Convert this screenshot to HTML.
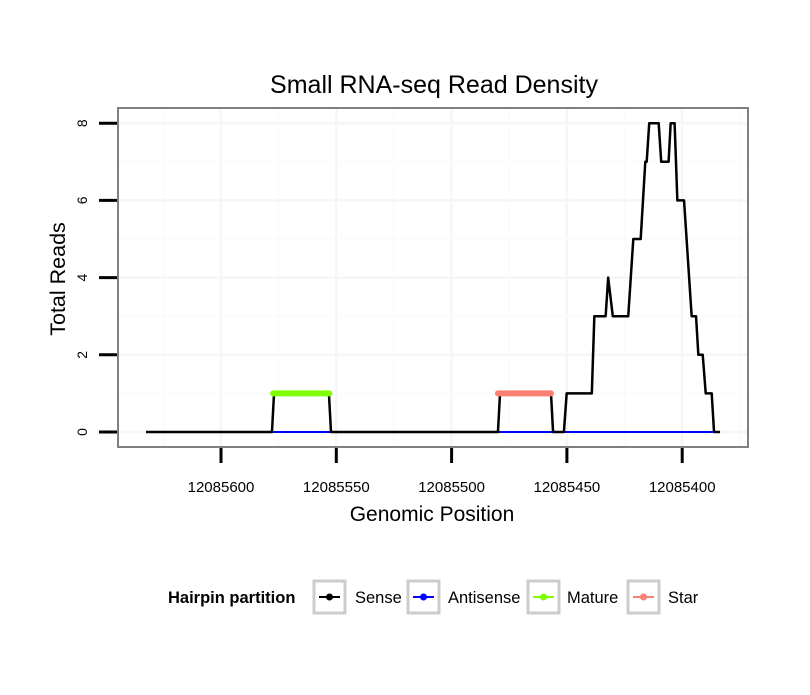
<!DOCTYPE html>
<html><head><meta charset="utf-8"><style>
body{margin:0;background:#fff;}
svg text{font-family:"Liberation Sans",sans-serif;}
</style></head><body>
<svg width="810" height="690" viewBox="0 0 810 690">
<text x="434" y="93" font-size="25" text-anchor="middle">Small RNA-seq Read Density</text>
<rect x="118" y="108" width="630" height="339" fill="#fff"/>
<g id="grid"></g>
<g id="series"></g>
<rect x="118" y="108" width="630" height="339" fill="none" stroke="#808080" stroke-width="2"/>
<g id="axes"></g>
<text x="432" y="521" font-size="21" text-anchor="middle">Genomic Position</text>
<text transform="translate(65,279) rotate(-90)" font-size="21.5" text-anchor="middle">Total Reads</text>
<g>
<text x="168" y="603" font-size="16.5" font-weight="bold">Hairpin partition</text>
<g>
<rect x="314" y="581" width="31" height="32" fill="#fff" stroke="#ccc" stroke-width="3"/>
<line x1="319" x2="340" y1="597" y2="597" stroke="#000" stroke-width="2"/><circle cx="329.5" cy="597" r="3.5" fill="#000"/>
<text x="355" y="603" font-size="16.5">Sense</text></g>
<g>
<rect x="408" y="581" width="31" height="32" fill="#fff" stroke="#ccc" stroke-width="3"/>
<line x1="413" x2="434" y1="597" y2="597" stroke="#00f" stroke-width="2"/><circle cx="423.5" cy="597" r="3.5" fill="#00f"/>
<text x="448" y="603" font-size="16.5">Antisense</text></g>
<g>
<rect x="528" y="581" width="31" height="32" fill="#fff" stroke="#ccc" stroke-width="3"/>
<line x1="533" x2="554" y1="597" y2="597" stroke="#7fff00" stroke-width="2"/><circle cx="543.5" cy="597" r="3.5" fill="#7fff00"/>
<text x="567" y="603" font-size="16.5">Mature</text></g>
<g>
<rect x="628" y="581" width="31" height="32" fill="#fff" stroke="#ccc" stroke-width="3"/>
<line x1="633" x2="654" y1="597" y2="597" stroke="#fa8072" stroke-width="2"/><circle cx="643.5" cy="597" r="3.5" fill="#fa8072"/>
<text x="668" y="603" font-size="16.5">Star</text></g>
</g>
</svg>
<script>
const xTicks = [12085600, 12085550, 12085500, 12085450, 12085400];
const yTicks = [0, 2, 4, 6, 8];
const sensePos = [12085632.5,12085577.9,12085577.0,12085553.2,12085552.3,12085479.9,12085479.0,12085456.9,12085456.0,12085451.3,12085450.1,12085439.2,12085438.1,12085433.2,12085432.1,12085430.1,12085423.4,12085421.2,12085418.0,12085416.0,12085415.4,12085414.3,12085410.2,12085409.1,12085405.9,12085405.0,12085403.3,12085402.1,12085399.2,12085395.9,12085394.0,12085393.0,12085391.1,12085389.8,12085387.2,12085386.2,12085383.6];
const senseVal = [0,0,1,1,0,0,1,1,0,0,1,1,3,3,4,3,3,5,5,7,7,8,8,7,7,8,8,6,6,3,3,2,2,1,1,0,0];
const antisensePos = [12085577.4, 12085386.7];
const antisenseVal = [0, 0];
const maturePos = [12085577.4, 12085553.0];
const matureVal = [1, 1];
const starPos = [12085479.9, 12085456.9];
const starVal = [1, 1];

const NS = "http://www.w3.org/2000/svg";
function xs(p){ return 221 + (12085600 - p) * 2.306; }
function ys(v){ return 432 - v * 38.6; }
const grid = document.getElementById('grid');
const axes = document.getElementById('axes');
const series = document.getElementById('series');
function mk(tag, attrs, parent){ const e=document.createElementNS(NS,tag); for(const k in attrs) e.setAttribute(k,attrs[k]); parent.appendChild(e); return e; }
const step = xTicks[0]-xTicks[1];
for (let i=-1;i<xTicks.length;i++){
  const p = xTicks[0] - (i+0.5)*step;
  const xm = xs(p);
  if (xm>118 && xm<748){ const g=mk('line',{x1:xm,x2:xm,y1:109,y2:446,stroke:'#fbfbfb','stroke-width':1.5},grid);
  
   }
}
xTicks.forEach(t=>{
  const x=xs(t);
  const g=mk('line',{x1:x,x2:x,y1:109,y2:446,stroke:'#f6f6f6','stroke-width':2.5},grid);
  
  
  const tk=mk('line',{x1:x,x2:x,y1:448,y2:463,stroke:'#000','stroke-width':3},axes);
  
  
  const lb=mk('text',{x:x,y:492,'font-size':15,'text-anchor':'middle'},axes);
  lb.textContent=t;
  
  
});
yTicks.forEach((t,i)=>{
  const y=ys(t);
  const g=mk('line',{x1:119,x2:747,y1:y,y2:y,stroke:'#f6f6f6','stroke-width':2.5},grid);
  
  
  const ym=ys(t+1);
  if (ym>108){ const m=mk('line',{x1:119,x2:747,y1:ym,y2:ym,stroke:'#fbfbfb','stroke-width':1.5},grid);
  
   }
  const tk=mk('line',{x1:99,x2:117,y1:y,y2:y,stroke:'#000','stroke-width':3},axes);
  
  
  const lb=mk('text',{transform:`translate(87,${y}) rotate(-90)`,'font-size':14,'text-anchor':'middle'},axes);
  lb.textContent=t;
  
  
});
function line(pos, val, color, w, cap, name){
  const pts = pos.map((p,i)=>xs(p)+','+ys(val[i])).join(' ');
  const e = mk('polyline',{points:pts,fill:'none',stroke:color,'stroke-width':w,'stroke-linecap':cap,'stroke-linejoin':'round'},series);
  
  
}
line(antisensePos, antisenseVal, '#0000ff', 2, 'butt', 'antisense-line');
line(sensePos, senseVal, '#000', 2.5, 'butt', 'sense-line');
line(maturePos, matureVal, '#7fff00', 6, 'round', 'mature-line');
line(starPos, starVal, '#fa8072', 6, 'round', 'star-line');
</script>
</body></html>
